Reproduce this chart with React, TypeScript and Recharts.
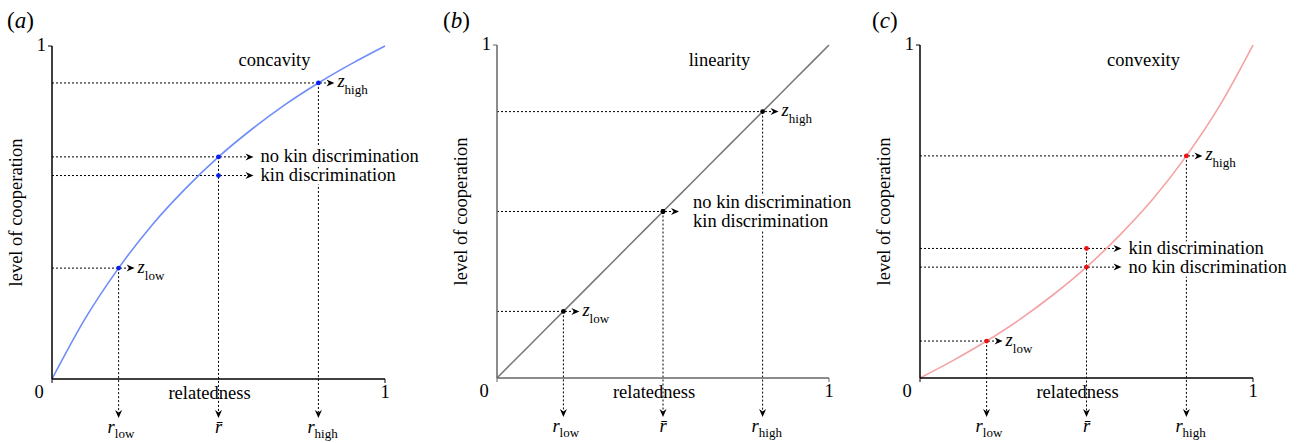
import React from "react";
import { ComposedChart, Line, XAxis, YAxis, ReferenceLine, ReferenceDot } from "recharts";

const SERIF = '"Liberation Serif", "Times New Roman", serif';

// relatedness grid and the three cooperation curves
const relatedness = [0, 0.1, 0.2, 0.3, 0.4, 0.5, 0.6, 0.7, 0.8, 0.9, 1];
const concaveCurve = [0, 0.182, 0.333, 0.462, 0.571, 0.667, 0.75, 0.824, 0.889, 0.947, 1];
const linearCurve = [0, 0.1, 0.2, 0.3, 0.4, 0.5, 0.6, 0.7, 0.8, 0.9, 1];
const convexCurve = [0, 0.053, 0.111, 0.176, 0.25, 0.333, 0.429, 0.538, 0.667, 0.818, 1];

// r_low, r-bar, r_high and the cooperation level at each
const markR = [0.2, 0.5, 0.8];
const concaveMarks = [0.333, 0.667, 0.889];
const linearMarks = [0.2, 0.5, 0.8];
const convexMarks = [0.111, 0.333, 0.667];
// average of z_low and z_high (kin discrimination)
const kinLevels = [0.611, 0.5, 0.389];

const panelLetters = ["a", "b", "c"];
const shapeNames = ["concavity", "linearity", "convexity"];
const rSubs = ["low", "", "high"];
const zSubs = ["low", "", "high"];

const FS = 18.5;
const SUB = 13;

function arrowRight(tip: number, y: number) {
  return `${tip},${y} ${tip - 8},${y - 3.5} ${tip - 5.5},${y} ${tip - 8},${y + 3.5}`;
}
function arrowDown(x: number, tip: number) {
  return `${x},${tip} ${x - 3.5},${tip - 8} ${x},${tip - 5.5} ${x + 3.5},${tip - 8}`;
}

function hShape(ext: number, label: (tip: number, y: number) => React.ReactNode) {
  return (p: any) => {
    const l = Math.min(p.x1, p.x2);
    const r = Math.max(p.x1, p.x2);
    const y = p.y1;
    const tip = r + ext;
    return (
      <g>
        <line x1={l} y1={y} x2={tip - 6} y2={y} stroke="#000" strokeWidth={1} strokeDasharray="2 2" />
        <polygon points={arrowRight(tip, y)} fill="#000" />
        {label(tip, y)}
      </g>
    );
  };
}

function vShape(sub: string) {
  return (p: any) => {
    const x = p.x1;
    const t = Math.min(p.y1, p.y2);
    const b = Math.max(p.y1, p.y2);
    const tip = b + 39;
    return (
      <g>
        <line x1={x} y1={t} x2={x} y2={tip - 6} stroke="#000" strokeWidth={1} strokeDasharray="2 2" />
        <polygon points={arrowDown(x, tip)} fill="#000" />
        {sub ? (
          <text x={x - 11} y={tip + 15} fontFamily={SERIF} fontSize={FS} fill="#000">
            <tspan fontStyle="italic">r</tspan>
            <tspan fontSize={SUB} dy={5}>{sub}</tspan>
          </text>
        ) : (
          <text x={x} y={tip + 15} textAnchor="middle" fontFamily={SERIF} fontSize={FS} fontStyle="italic" fill="#000">
            {"r\u0304"}
          </text>
        )}
      </g>
    );
  };
}

const zLabel = (sub: string) => (tip: number, y: number) => (
  <text x={tip + 3} y={y + 4.5} fontFamily={SERIF} fontSize={FS} fill="#000">
    <tspan fontStyle="italic">z</tspan>
    <tspan fontSize={SUB} dy={7}>{sub}</tspan>
  </text>
);

const textLabel = (txt: string, gap: number, dy: number) => (tip: number, y: number) => (
  <text
    x={tip + gap}
    y={y + dy}
    fontFamily={SERIF}
    fontSize={FS}
    fill="#000"
    stroke="#fff"
    strokeWidth={7}
    paintOrder="stroke"
    strokeLinejoin="round"
  >
    {txt}
  </text>
);

const mergedLabel = (tip: number, y: number) => (
  <g>
    {textLabel("no kin discrimination", 14, -3.5)(tip, y)}
    {textLabel("kin discrimination", 14, 15)(tip, y)}
  </g>
);

const XTick = (p: any) => (
  <text x={p.payload.value === 0 ? p.x - 13 : p.x} y={p.y} dy={13} textAnchor="middle" fontFamily={SERIF} fontSize={FS} fill="#000">
    {p.payload.value}
  </text>
);
const YTick = (p: any) => (
  <text x={p.x} y={p.y} dy={5} textAnchor="end" fontFamily={SERIF} fontSize={FS} fill="#000">
    {p.payload.value}
  </text>
);

type PanelProps = {
  left: number;
  margin: { top: number; right: number; bottom: number; left: number };
  curve: number[];
  marks: number[];
  kin: number;
  curveColor: string;
  dotColor: string;
  axisColor: string;
  kinExt: number;
};

function Panel({ left, margin, curve, marks, kin, curveColor, dotColor, axisColor, kinExt }: PanelProps) {
  const rows = relatedness.map((r, i) => ({ r, z: curve[i] }));
  const merged = kin === marks[1];
  const midTop = Math.max(kin, marks[1]);
  const rBar = markR[1];
  return (
    <div style={{ position: "absolute", left, top: 0 }}>
      <ComposedChart width={430} height={443} data={rows} margin={margin}>
        <XAxis
          dataKey="r"
          type="number"
          domain={[0, 1]}
          ticks={[0, 1]}
          height={30}
          tickSize={4}
          axisLine={{ stroke: axisColor, strokeWidth: 1.5 }}
          tickLine={{ stroke: axisColor }}
          tick={<XTick />}
          label={{
            content: (lp: any) => (
              <text
                x={lp.viewBox.x + lp.viewBox.width / 2 - 9}
                y={lp.viewBox.y + 20}
                textAnchor="middle"
                fontFamily={SERIF}
                fontSize={FS}
                fill="#000"
              >
                relatedness
              </text>
            ),
          }}
        />
        <YAxis
          type="number"
          domain={[0, 1]}
          ticks={[1]}
          width={30}
          tickSize={4}
          axisLine={{ stroke: axisColor, strokeWidth: 1.5 }}
          tickLine={{ stroke: axisColor }}
          tick={<YTick />}
          label={{
            content: (lp: any) => {
              const x = lp.viewBox.x;
              const y = lp.viewBox.y + lp.viewBox.height / 2;
              return (
                <text
                  x={x}
                  y={y}
                  transform={`rotate(-90, ${x}, ${y})`}
                  textAnchor="middle"
                  fontFamily={SERIF}
                  fontSize={FS}
                  fill="#000"
                >
                  level of cooperation
                </text>
              );
            },
          }}
        />
        {/* vertical drop lines to the relatedness axis */}
        <ReferenceLine segment={[{ x: markR[0], y: marks[0] }, { x: markR[0], y: 0 }]} shape={vShape(rSubs[0])} />
        <ReferenceLine segment={[{ x: rBar, y: midTop }, { x: rBar, y: 0 }]} shape={vShape(rSubs[1])} />
        <ReferenceLine segment={[{ x: markR[2], y: marks[2] }, { x: markR[2], y: 0 }]} shape={vShape(rSubs[2])} />
        {/* horizontal lines to the cooperation levels */}
        <ReferenceLine segment={[{ x: 0, y: marks[0] }, { x: markR[0], y: marks[0] }]} shape={hShape(16, zLabel(zSubs[0]))} />
        <ReferenceLine segment={[{ x: 0, y: marks[2] }, { x: markR[2], y: marks[2] }]} shape={hShape(16, zLabel(zSubs[2]))} />
        {merged ? (
          <ReferenceLine segment={[{ x: 0, y: kin }, { x: rBar, y: kin }]} shape={hShape(16, mergedLabel)} />
        ) : null}
        {!merged ? (
          <ReferenceLine
            segment={[{ x: 0, y: marks[1] }, { x: rBar, y: marks[1] }]}
            shape={hShape(kinExt, textLabel("no kin discrimination", 7, 5.5))}
          />
        ) : null}
        {!merged ? (
          <ReferenceLine
            segment={[{ x: 0, y: kin }, { x: rBar, y: kin }]}
            shape={hShape(kinExt, textLabel("kin discrimination", 7, 5.5))}
          />
        ) : null}
        <Line
          dataKey="z"
          type="monotone"
          stroke={curveColor}
          strokeWidth={1.6}
          dot={false}
          activeDot={false}
          isAnimationActive={false}
        />
        {marks.map((z, i) => (
          <ReferenceDot key={i} x={markR[i]} y={z} r={2.4} fill={dotColor} stroke={dotColor} strokeWidth={0} />
        ))}
        <ReferenceDot x={rBar} y={kin} r={2.4} fill={dotColor} stroke={dotColor} strokeWidth={0} />
      </ComposedChart>
    </div>
  );
}

const letterX = [7, 443, 872];
const nameX = [274.5, 719.5, 1143.5];

export default function App() {
  return (
    <div style={{ position: "absolute", left: 0, top: 0, width: 1301, height: 443, background: "#fff" }}>
      <Panel
        left={0}
        margin={{ top: 46, right: 45, bottom: 34, left: 22 }}
        curve={concaveCurve}
        marks={concaveMarks}
        kin={kinLevels[0]}
        curveColor="#6f8df7"
        dotColor="#0a1ef5"
        axisColor="#000"
        kinExt={35}
      />
      <Panel
        left={445}
        margin={{ top: 45, right: 46, bottom: 35, left: 22 }}
        curve={linearCurve}
        marks={linearMarks}
        kin={kinLevels[1]}
        curveColor="#7a7a7a"
        dotColor="#000"
        axisColor="#666"
        kinExt={16}
      />
      <Panel
        left={868}
        margin={{ top: 45, right: 45, bottom: 35, left: 22 }}
        curve={convexCurve}
        marks={convexMarks}
        kin={kinLevels[2]}
        curveColor="#f3a3a3"
        dotColor="#ee1111"
        axisColor="#000"
        kinExt={35}
      />
      <svg width={1301} height={443} style={{ position: "absolute", left: 0, top: 0, pointerEvents: "none" }}>
        {panelLetters.map((l, i) => (
          <text key={l} x={letterX[i]} y={28} fontFamily={SERIF} fontSize={23} fill="#000">
            (<tspan fontStyle="italic">{l}</tspan>)
          </text>
        ))}
        {shapeNames.map((n, i) => (
          <text key={n} x={nameX[i]} y={66} textAnchor="middle" fontFamily={SERIF} fontSize={FS} fill="#000">
            {n}
          </text>
        ))}
      </svg>
    </div>
  );
}
